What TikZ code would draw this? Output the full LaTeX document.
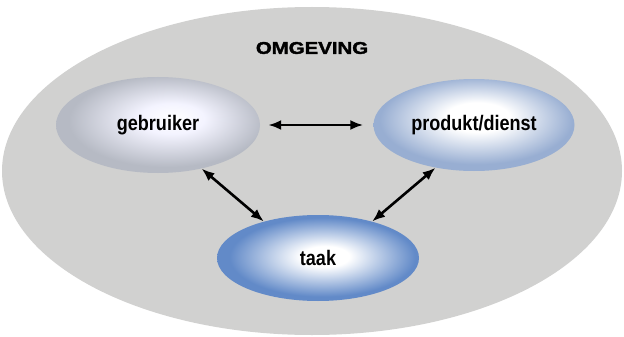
\documentclass[tikz,border=0pt]{standalone}
\usepackage{fontspec}
\setmainfont{Liberation Sans}
\usetikzlibrary{positioning,shapes.geometric,arrows.meta}

% 颜色
\definecolor{omgrijs}{RGB}{209,209,208}
\definecolor{gebrand}{RGB}{182,186,196}
\definecolor{prodrand}{RGB}{152,174,210}
\definecolor{taakrand}{RGB}{98,138,200}

% 三个椭圆的径向渐变 (中间白, 边缘有色)
\pgfdeclareradialshading{gebglow}{\pgfpoint{4bp}{4bp}}{color(0bp)=(white); color(8bp)=(white!85!blue!30!white); color(24bp)=(gebrand); color(50bp)=(gebrand)}
\pgfdeclareradialshading{prodglow}{\pgfpoint{1bp}{5bp}}{color(0bp)=(white); color(8bp)=(white); color(24bp)=(prodrand); color(50bp)=(prodrand)}
\pgfdeclareradialshading{taakglow}{\pgfpoint{2bp}{1bp}}{color(0bp)=(white); color(6bp)=(white); color(23bp)=(taakrand); color(50bp)=(taakrand)}

\tikzset{
	deel/.style={ellipse, inner sep=0pt, font=\fontsize{21}{21}\selectfont\bfseries\addfontfeature{FakeStretch=0.86}},
	pijl/.style={{Latex[length=13pt,width=10pt]}-{Latex[length=13pt,width=10pt]}, line width=2.6pt}
}

\begin{document}
\begin{tikzpicture}[x=1pt, y=-1pt]
	% 画布大小
	\useasboundingbox (0, 0) rectangle (624, 337);

	% 外面的大椭圆: 环境
	\node[ellipse, fill=omgrijs, minimum width=620pt, minimum height=328pt] (omg) at (312, 171) {};
	\node[font=\fontsize{17}{17}\selectfont\bfseries\addfontfeature{FakeStretch=1.2,FakeBold=2}] (omglabel) at (312, 48) {OMGEVING};

	% 三个部分
	\node[deel, shading=gebglow, minimum width=204pt, minimum height=96pt] (geb) at (158, 125) {gebruiker};
	\node[deel, shading=prodglow, minimum width=201pt, minimum height=92pt] (prod) at (474, 125) {produkt/dienst};
	\node[deel, shading=taakglow, minimum width=202pt, minimum height=86pt] (taak) at (318, 258) {taak};

	% 双向箭头
	\draw[pijl, shorten <=8pt, shorten >=10pt] (geb.east) -- (prod.west);
	\draw[pijl] (geb.-45) -- (taak.146);
	\draw[pijl] (prod.-132) -- (taak.34);
\end{tikzpicture}
\end{document}
